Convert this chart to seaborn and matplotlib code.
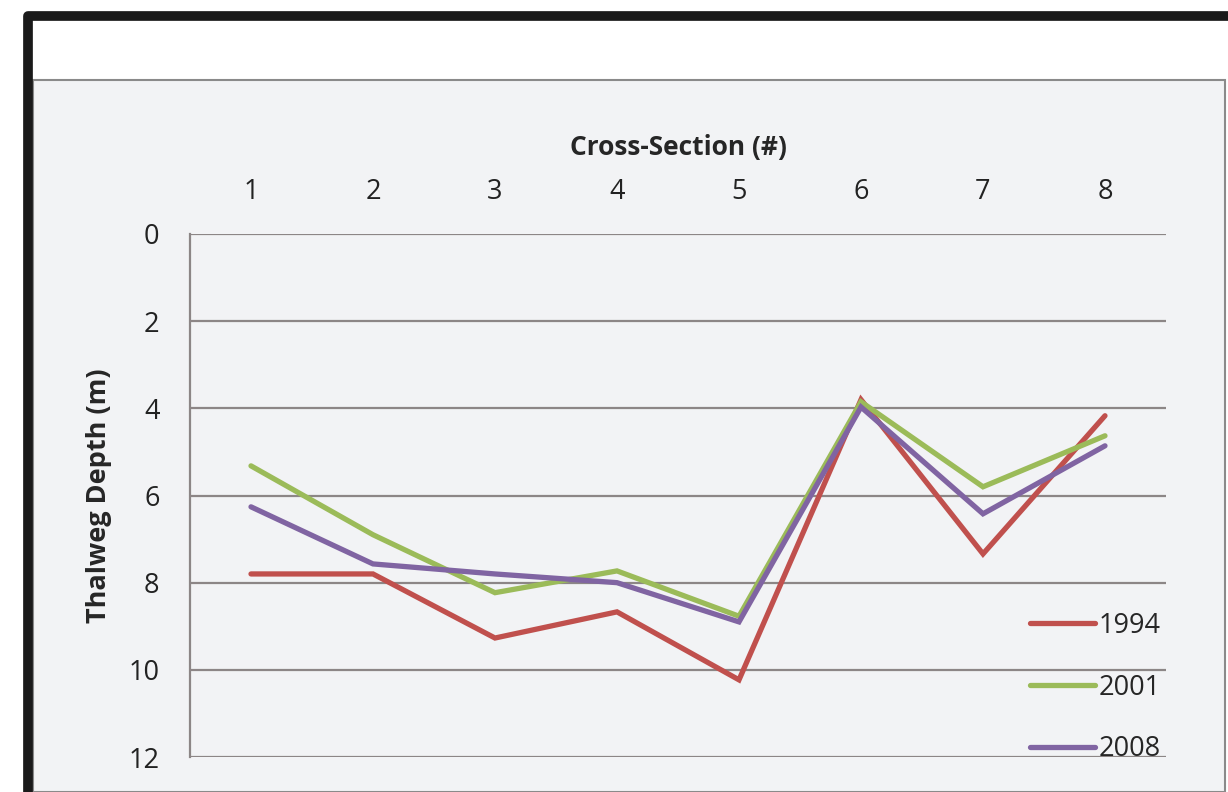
import pandas as pd
import seaborn as sns
import matplotlib.pyplot as plt
from matplotlib.patches import Rectangle
from matplotlib.lines import Line2D

# ----------- Data ----------------------------------------

cross_sections = [1, 2, 3, 4, 5, 6, 7, 8]
depth_1994 = [7.8, 7.8, 9.27, 8.67, 10.23, 3.8, 7.34, 4.17]
depth_2001 = [5.32, 6.9, 8.23, 7.73, 8.77, 3.85, 5.8, 4.63]
depth_2008 = [6.26, 7.57, 7.8, 8.0, 8.9, 3.97, 6.42, 4.86]
years = ["1994", "2001", "2008"]
colors = ["#c0504d", "#9bbb59", "#8064a2"]
y_ticks = [0, 2, 4, 6, 8, 10, 12]

df = pd.DataFrame({
    "section": cross_sections * 3,
    "depth": depth_1994 + depth_2001 + depth_2008,
    "year": [y for y in years for _ in cross_sections],
})

# ----------- Figure ---------------------

sns.set_style("white")
plt.rcParams["font.family"] = ["Open Sans", "DejaVu Sans"]

W, H = 1228, 792
fig = plt.figure(figsize=(W / 100, H / 100), dpi=100, facecolor="white")

def fx(px):
    return px / W

def fy(py):
    return 1 - py / H

panel_bg = "#f2f3f5"

# inner grey panel + white title band
fig.patches.append(Rectangle((fx(33), 0), fx(1225) - fx(33), fy(80),
                             transform=fig.transFigure, facecolor=panel_bg,
                             edgecolor="#8a8a8a", lw=1.5, zorder=-2))
# thick black frame (runs off the right and bottom edges)
fig.patches.append(Rectangle((fx(28), -0.1), 1.2, fy(16) + 0.1,
                             transform=fig.transFigure, facecolor="none",
                             edgecolor="#1a1a1a", lw=7, zorder=-1,
                             joinstyle="round"))

ax = fig.add_axes([fx(190), fy(757), fx(1166) - fx(190), fy(234) - fy(757)])
ax.set_zorder(5)
ax.set_facecolor(panel_bg)

sns.lineplot(data=df, x="section", y="depth", hue="year", palette=colors,
             linewidth=3.8, ax=ax, legend=False)
for ln in ax.lines:
    ln.set_solid_capstyle("round")
    ln.set_solid_joinstyle("miter")

ax.set_xlim(0.5, 8.5)
ax.set_ylim(12, 0)
ax.set_yticks(y_ticks)
ax.set_xticks(cross_sections)
ax.xaxis.tick_top()
ax.xaxis.set_label_position("top")
ax.tick_params(axis="both", length=0, labelsize=19.5, colors="#222222")
ax.tick_params(axis="x", pad=20)
ax.tick_params(axis="y", pad=22)

ax.set_xlabel("Cross-Section (#)", fontsize=19, fontweight="bold", labelpad=17)
ax.set_ylabel("Thalweg Depth (m)", fontsize=19.5, fontweight="bold", labelpad=12)

ax.grid(axis="y", color="#8c8686", linewidth=1.6)
ax.set_axisbelow(True)
for side in ["top", "right", "bottom"]:
    ax.spines[side].set_visible(False)
ax.spines["left"].set_color("#8c8686")
ax.spines["left"].set_linewidth(1.6)

handles = [Line2D([0], [0], color=c, lw=3.8, solid_capstyle="round") for c in colors]
ax.legend(handles, years, loc="lower right", bbox_to_anchor=(1.006, -0.033),
          frameon=False, fontsize=19.5, handlelength=2.4, handletextpad=0.15,
          labelspacing=1.25, borderaxespad=0)

fig.savefig("out.png", dpi=100, facecolor="white")
